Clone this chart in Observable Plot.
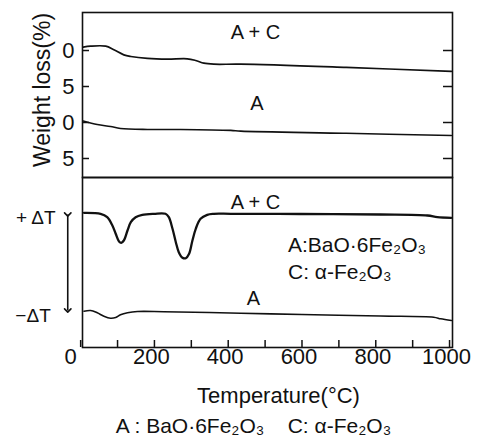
<!DOCTYPE html>
<html>
<head>
<meta charset="utf-8">
<script src="https://cdn.jsdelivr.net/npm/d3@7"></script>
<script src="https://cdn.jsdelivr.net/npm/@observablehq/plot@0.6"></script>
<style>
  html, body { margin: 0; padding: 0; background: #fff; }
  #chart { position: relative; width: 478px; height: 441px; overflow: hidden; background: #fff; }
  #chart svg { position: absolute; left: 0; overflow: visible; }
</style>
</head>
<body>
<div id="chart"></div>
<script>
// ---- Data ----
// TG curves: temperature (°C) and weight loss (%), A curve offset by 10 %
const tgACTemp = [7, 27, 68, 90, 117, 136, 181, 235, 289, 312, 334, 361, 434, 720, 1005];
const tgACLoss = [-0.46, -0.6, -0.6, -0.1, 0.6, 0.83, 1.1, 1.2, 1.15, 1.39, 1.76, 1.9, 1.9, 2.35, 2.9];
const tgATemp = [7, 45, 81, 108, 181, 271, 407, 434, 720, 1005];
const tgALoss = [9.8, 10.28, 10.56, 10.83, 10.97, 10.97, 11.1, 11.2, 11.5, 11.8];

// DTA curves: temperature (°C) and signal (arbitrary units, A curve offset)
const dtaACTemp = [9, 54, 72, 86, 95, 104, 110, 117, 127, 136, 149, 167, 199, 230, 239, 249, 258, 266, 276, 285, 294, 303, 312, 325, 343, 361, 407, 596, 813, 940, 967, 1005];
const dtaACVal  = [134.7, 133.7, 130.3, 122, 113.7, 106, 104.7, 107, 117, 125.3, 130.3, 132.7, 133.7, 133.7, 130.3, 118.7, 105.3, 95.3, 89.7, 89.3, 93.7, 107, 118.7, 128.7, 132.7, 133.7, 133.7, 133.5, 133, 132, 130.3, 129.7];
const dtaATemp = [9, 27, 45, 63, 81, 95, 108, 127, 154, 225, 434, 600, 813, 957, 976, 1005];
const dtaAVal  = [36.3, 37, 34.7, 31.3, 29.3, 30, 32.7, 34.7, 36, 35.8, 34.3, 33, 31.5, 30.3, 28.7, 27];

// Ticks
const tgTickValues = [0, 5, 10, 15];
const tgTickLabels = ["0", "5", "0", "5"];
const xMinorTicks = [0, 100, 200, 300, 400, 500, 600, 700, 800, 900, 1000];
const xLabelTicks = [200, 400, 600, 800, 1000];

const tgAC = tgACTemp.map((t, i) => ({t, w: tgACLoss[i]}));
const tgA = tgATemp.map((t, i) => ({t, w: tgALoss[i]}));
const dtaAC = dtaACTemp.map((t, i) => ({t, v: dtaACVal[i]}));
const dtaA = dtaATemp.map((t, i) => ({t, v: dtaAVal[i]}));

const FONT = "'Liberation Sans', Arial, sans-serif";
const INK = "#111";
const xDomain = [5, 1008];

const topPlot = Plot.plot({
  width: 478, height: 178,
  marginLeft: 82, marginRight: 26, marginTop: 12, marginBottom: 1,
  x: {domain: xDomain, axis: null},
  y: {domain: [-5.28, 17.64], reverse: true, axis: null},
  style: {fontFamily: FONT, color: INK, background: "transparent"},
  marks: [
    Plot.frame({stroke: INK, strokeWidth: 1.6}),
    Plot.axisY(tgTickValues, {anchor: "left", tickSize: -7, tickFormat: () => "", label: null, strokeWidth: 1.5}),
    Plot.axisY(tgTickValues, {anchor: "right", tickSize: -10, tickFormat: () => "", label: null, strokeWidth: 1.5}),
    Plot.axisY(tgTickValues, {anchor: "left", tickSize: 0, tickPadding: 8, label: null, fontSize: 22, fill: INK,
      tickFormat: d => tgTickLabels[tgTickValues.indexOf(d)]}),
    Plot.text(["Weight loss(%)"], {frameAnchor: "left", rotate: -90, dx: -40, dy: -5, fontSize: 23, fill: INK, textAnchor: "middle", lineAnchor: "middle"}),
    Plot.line(tgAC, {x: "t", y: "w", stroke: INK, strokeWidth: 1.7, curve: "catmull-rom"}),
    Plot.line(tgA, {x: "t", y: "w", stroke: INK, strokeWidth: 1.6, curve: "catmull-rom"}),
    Plot.text([{t: 474, w: -2.5, s: "A + C"}, {t: 478, w: 7.4, s: "A"}], {x: "t", y: "w", text: "s", fontSize: 20, fill: INK, lineAnchor: "middle"})
  ]
});
topPlot.style.top = "0px";

const bottomPlot = Plot.plot({
  width: 478, height: 264,
  marginLeft: 82, marginRight: 26, marginTop: 0, marginBottom: 94,
  x: {domain: xDomain, axis: null},
  y: {domain: [0, 170], axis: null},
  style: {fontFamily: FONT, color: INK, background: "transparent"},
  marks: [
    Plot.frame({stroke: INK, strokeWidth: 1.6}),
    Plot.axisX(xMinorTicks, {anchor: "bottom", tickSize: -7, tickFormat: () => "", label: null, strokeWidth: 1.5}),
    Plot.axisX(xLabelTicks, {anchor: "bottom", tickSize: 0, tickPadding: 1, dx: -3, label: null, fontSize: 22, fill: INK, tickFormat: d => String(d)}),
    Plot.axisX([0], {anchor: "bottom", tickSize: 0, tickPadding: 1, dx: -10, label: null, fontSize: 22, fill: INK, tickFormat: d => String(d)}),
    Plot.line(dtaAC, {x: "t", y: "v", stroke: INK, strokeWidth: 2.3, curve: "catmull-rom"}),
    Plot.line(dtaA, {x: "t", y: "v", stroke: INK, strokeWidth: 1.6, curve: "catmull-rom"}),
    Plot.link([{x: -35, y1: 133, y2: 37}], {x1: "x", x2: "x", y1: "y1", y2: "y2", stroke: INK, strokeWidth: 1.6, markerStart: "arrow", markerEnd: "arrow"}),
    Plot.text([{t: -68, v: 130, s: "+ ΔT"}, {t: -81, v: 32, s: "−ΔT"}], {x: "t", y: "v", text: "s", fontSize: 19, fill: INK, textAnchor: "end", lineAnchor: "middle"}),
    Plot.text([{t: 474, v: 145, s: "A + C"}, {t: 468, v: 49, s: "A"}], {x: "t", y: "v", text: "s", fontSize: 20, fill: INK, lineAnchor: "middle"}),
    Plot.text([{t: 562, v: 102, s: "A:BaO·6Fe₂O₃"}, {t: 562, v: 75, s: "C: α-Fe₂O₃"}], {x: "t", y: "v", text: "s", fontSize: 21, fill: INK, textAnchor: "start", lineAnchor: "middle"}),
    Plot.text(["Temperature(°C)"], {frameAnchor: "bottom", dx: 11, dy: 48, fontSize: 22, fill: INK, textAnchor: "middle", lineAnchor: "middle"}),
    Plot.text(["A : BaO·6Fe₂O₃    C: α-Fe₂O₃"], {frameAnchor: "bottom", dx: -14, dy: 79, fontSize: 21, fill: INK, textAnchor: "middle", lineAnchor: "middle"})
  ]
});
bottomPlot.style.top = "177px";

const chart = document.getElementById("chart");
chart.appendChild(topPlot);
chart.appendChild(bottomPlot);
</script>
</body>
</html>
